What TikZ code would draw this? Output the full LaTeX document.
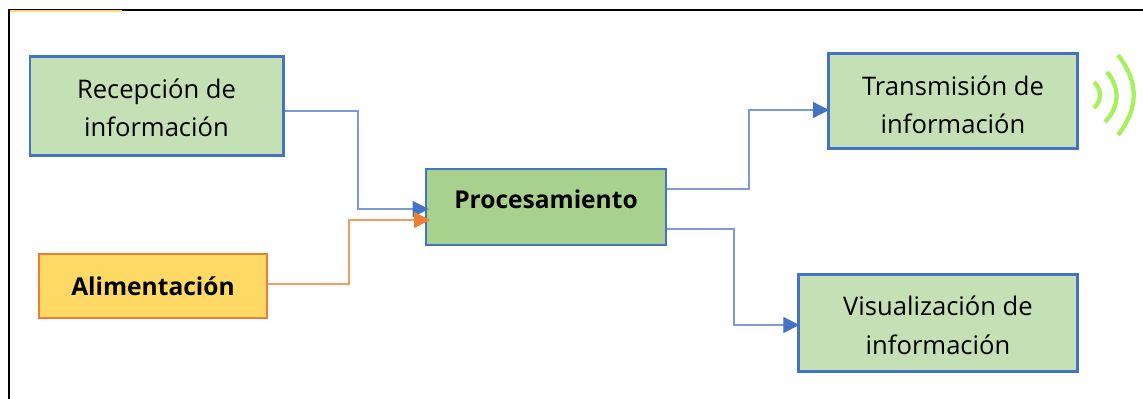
\documentclass[tikz,border=0pt]{standalone}
\usepackage{fontspec}
\setmainfont{Open Sans}
\usetikzlibrary{positioning}
\usetikzlibrary{arrows.meta}
\definecolor{boxblue}{HTML}{4472C4}
\definecolor{linkblue}{HTML}{7C9BD6}
\definecolor{boxgreen}{HTML}{C5E0B4}
\definecolor{procgreen}{HTML}{A9D18E}
\definecolor{feedorange}{HTML}{ED7D31}
\definecolor{feedyellow}{HTML}{FFD966}
\definecolor{wavegreen}{HTML}{A6F05A}

\begin{document}
\begin{tikzpicture}[x=0.75pt,y=-0.75pt,
	main node/.style={rectangle,draw=boxblue,line width=2pt,fill=boxgreen,align=center,inner sep=0pt,font=\fontsize{19.2}{29}\selectfont},
	bold node/.style={main node,font=\fontsize{18.4}{29}\selectfont\bfseries},
	link/.style={draw=linkblue,line width=0.9pt,-{Triangle[length=12pt,width=12pt,color=boxblue]},shorten >=-3pt},
	wave/.style={draw=wavegreen,line width=3.2pt}]
	\useasboundingbox (0,0) rectangle (1143,399);
	
	\draw[black,line width=1.8pt] (9,399) -- (9,10) -- (1143,10);
	\coordinate (mark a) at (10,11);
	\coordinate (mark b) at (122,11);
	\draw[feedyellow,line width=0.8pt] (mark a) -- (mark b);
	
	\node[main node,minimum width=190pt,minimum height=74pt,text height=46.5pt] (rec) at (156.5,106) {Recepción de\\información};
	\node[bold node,draw=feedorange,fill=feedyellow,minimum width=171pt,minimum height=48pt] (ali) at (153,286) {Alimentación};
	\node[bold node,fill=procgreen,minimum width=180pt,minimum height=57pt,text depth=11pt] (pro) at (546,207) {Procesamiento};
	\node[main node,minimum width=187pt,minimum height=71pt,text height=49.5pt] (tra) at (953,101) {Transmisión de\\información};
	\node[main node,minimum width=209pt,minimum height=73pt,text height=47.5pt] (vis) at (938,323) {Visualización de\\información};
	
	\coordinate (rec turn) at (358,111);
	\coordinate (rec end) at (358,209);
	\coordinate (ali turn) at (349,284);
	\coordinate (ali end) at (349,220);
	\coordinate (tra turn) at (749,189);
	\coordinate (tra end) at (749,110);
	\coordinate (vis turn) at (734,229);
	\coordinate (vis end) at (734,325);
	
	\draw[link] (rec.east |- rec turn) -- (rec turn) -- (rec end) -- (pro.west |- rec end);
	\draw[link,draw=feedorange!75,-{Triangle[length=12pt,width=12pt,color=feedorange]},shorten >=-4pt] (ali.east |- ali turn) -- (ali turn) -- (ali end) -- (pro.west |- ali end);
	\draw[link,shorten >=-1.5pt] (pro.east |- tra turn) -- (tra turn) -- (tra end) -- (tra.west |- tra end);
	\draw[link,shorten >=-1.5pt] (pro.east |- vis turn) -- (vis turn) -- (vis end) -- (vis.west |- vis end);
	
	\draw[wave] (1094,82) .. controls (1102,90) and (1102,100) .. (1094,108);
	\draw[wave] (1107,72) .. controls (1120,88) and (1120,106) .. (1105,122);
	\draw[wave] (1118,55) .. controls (1139,82) and (1139,108) .. (1118,135);
\end{tikzpicture}
\end{document}
